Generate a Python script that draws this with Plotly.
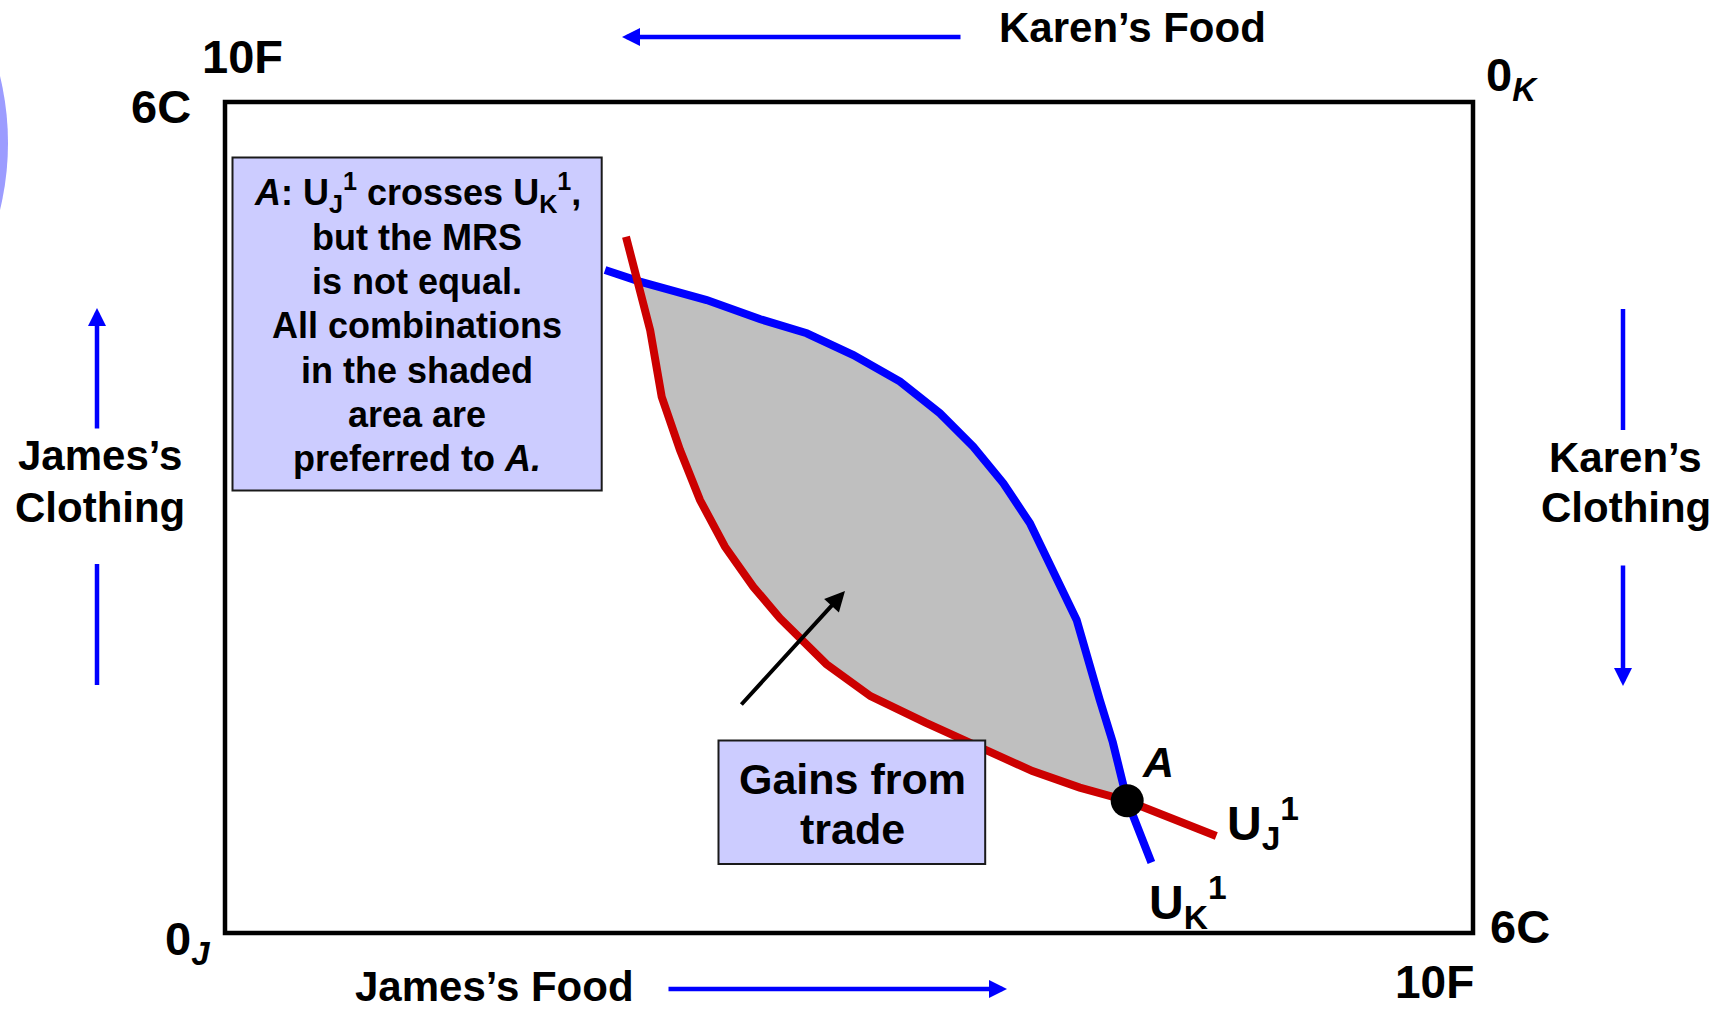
import plotly.graph_objects as go
import numpy as np

# ---------------- data ----------------
# James's indifference curve U_J^1 (red)  -- x: food, y: clothing (James's origin)
uj_x = [3.213, 3.325, 3.407, 3.499, 3.646, 3.806, 4.006, 4.233, 4.447, 4.819, 5.172, 5.613, 5.967, 6.470, 6.849, 7.229, 7.943]
uj_y = [5.027, 4.667, 4.352, 3.872, 3.487, 3.126, 2.789, 2.500, 2.272, 1.941, 1.710, 1.519, 1.368, 1.169, 1.050, 0.955, 0.700]

# Karen's indifference curve U_K^1 (blue)
uk_x = [3.045, 3.325, 3.860, 4.290, 4.661, 5.035, 5.409, 5.729, 5.996, 6.237, 6.450, 6.637, 6.824, 7.008, 7.114, 7.229, 7.423]
uk_y = [4.787, 4.703, 4.570, 4.431, 4.330, 4.173, 3.981, 3.752, 3.511, 3.247, 2.958, 2.621, 2.260, 1.687, 1.376, 0.955, 0.509]

# allocation A
point_a = (7.229, 0.955)

# edgeworth box dimensions
food_total = 10
clothing_total = 6
corner_labels = {"food": "10F", "clothing": "6C"}

box_lines = [
    "<b><i>A</i>: U<sub>J</sub><sup>1</sup> crosses U<sub>K</sub><sup>1</sup>,</b>",
    "<b>but the MRS</b>",
    "<b>is not equal.</b>",
    "<b>All combinations</b>",
    "<b>in the shaded</b>",
    "<b>area are</b>",
    "<b>preferred to <i>A.</i></b>",
]
gains_lines = ["<b>Gains from</b>", "<b>trade</b>"]

# ---------------- layout geometry ----------------
W, H = 1728, 1010
L, R, T, B = 225, 1473, 102, 933


def px(x):
    return (x - L) / (R - L)


def py(y):
    return (B - y) / (B - T)


def seg_intersect(p1, p2, p3, p4):
    x1, y1 = p1; x2, y2 = p2; x3, y3 = p3; x4, y4 = p4
    d = (x1 - x2) * (y3 - y4) - (y1 - y2) * (x3 - x4)
    t = ((x1 - x3) * (y3 - y4) - (y1 - y3) * (x3 - x4)) / d
    return x1 + t * (x2 - x1), y1 + t * (y2 - y1)


# shaded lens between the curves (from upper crossing to A)
ia = uj_x.index(point_a[0])
ib = uk_x.index(point_a[0])
top = seg_intersect((uj_x[0], uj_y[0]), (uj_x[1], uj_y[1]), (uk_x[0], uk_y[0]), (uk_x[1], uk_y[1]))
shade_x = [top[0]] + uk_x[1:ib + 1] + uj_x[1:ia][::-1] + [top[0]]
shade_y = [top[1]] + uk_y[1:ib + 1] + uj_y[1:ia][::-1] + [top[1]]

RED = "#CC0000"
BLUE = "#0000FF"
FONT = "Liberation Sans, Arial, sans-serif"

fig = go.Figure()
fig.add_trace(go.Scatter(x=shade_x, y=shade_y, mode="lines", fill="toself",
                         fillcolor="#BFBFBF", line=dict(width=0), hoverinfo="skip"))
fig.add_trace(go.Scatter(x=uk_x, y=uk_y, mode="lines", line=dict(color=BLUE, width=8)))
fig.add_trace(go.Scatter(x=uj_x, y=uj_y, mode="lines", line=dict(color=RED, width=8)))
fig.add_trace(go.Scatter(x=[point_a[0]], y=[point_a[1]], mode="markers",
                         marker=dict(color="black", size=33, line=dict(width=0))))

shapes = []
# frame of the Edgeworth box
shapes.append(dict(type="rect", xref="paper", yref="paper", x0=0, x1=1, y0=0, y1=1,
                   line=dict(color="black", width=4.5), layer="above"))
# text boxes
shapes.append(dict(type="rect", xref="paper", yref="paper", x0=px(232.5), x1=px(601.7),
                   y0=py(157.6), y1=py(490.4), fillcolor="#CCCCFF",
                   line=dict(color="#1a1a1a", width=2), layer="above"))
shapes.append(dict(type="rect", xref="paper", yref="paper", x0=px(718.5), x1=px(985.2),
                   y0=py(740.5), y1=py(864), fillcolor="#CCCCFF",
                   line=dict(color="#1a1a1a", width=2), layer="above"))
# plain blue segments (tails of the side arrows)
shapes.append(dict(type="line", xref="paper", yref="paper", x0=px(97), x1=px(97),
                   y0=py(564), y1=py(685), line=dict(color=BLUE, width=4.5)))
shapes.append(dict(type="line", xref="paper", yref="paper", x0=px(1623), x1=px(1623),
                   y0=py(309), y1=py(430), line=dict(color=BLUE, width=4.5)))
# decorative lavender disc at left edge
shapes.append(dict(type="circle", xref="paper", yref="paper", x0=px(-277 - 285), x1=px(8),
                   y0=py(143 + 285), y1=py(143 - 285), fillcolor="#9C9CFF",
                   line=dict(width=0), layer="above"))

ann = []


def text(x, y, s, size, family=FONT, xanchor="center", yanchor="middle"):
    ann.append(dict(x=px(x), y=py(y), xref="paper", yref="paper", text=s, showarrow=False,
                    font=dict(family=family, size=size, color="black"),
                    xanchor=xanchor, yanchor=yanchor, align="center"))


def arrow(x0, y0, x1, y1, color, width, size=0.8):
    ann.append(dict(x=px(x1), y=py(y1), xref="paper", yref="paper",
                    ax=x0 - x1, ay=y0 - y1, axref="pixel", ayref="pixel",
                    text="", showarrow=True, arrowhead=2, arrowsize=size,
                    arrowwidth=width, arrowcolor=color))


for i, s in enumerate(box_lines):
    text(417, 193 + 44.25 * i, s, 36)
for i, s in enumerate(gains_lines):
    text(852, 779 + 50 * i, s, 43)

# corner labels
text(161, 106, "<b>" + corner_labels["clothing"] + "</b>", 47)
text(242, 57, "<b>" + corner_labels["food"] + "</b>", 47)
text(1520, 926, "<b>" + corner_labels["clothing"] + "</b>", 47)
text(1434, 982, "<b>" + corner_labels["food"] + "</b>", 46)
text(1484, 78, "<b>0<sub><i>K</i></sub></b>", 47, xanchor="left")
text(163, 942, "<b>0<sub><i>J</i></sub></b>", 47, xanchor="left")

# curve labels
text(1158, 762, "<b><i>A</i></b>", 43)
text(1225, 823, "<b>U<sub>J</sub><sup>1</sup></b>", 48, xanchor="left")
text(1147, 902, "<b>U<sub>K</sub><sup>1</sup></b>", 48, xanchor="left")

# axis titles
text(100, 455, "<b>James’s</b>", 42)
text(100, 507, "<b>Clothing</b>", 42)
text(1626, 457, "<b>Karen’s</b>", 42)
text(1626, 507, "<b>Clothing</b>", 42)
text(1132, 28, "<b>Karen’s Food</b>", 42)
text(494, 986, "<b>James’s Food</b>", 42)

# direction arrows
arrow(962, 37, 622, 37, BLUE, 4.5)
arrow(667, 989, 1007, 989, BLUE, 4.5)
arrow(97, 430, 97, 308, BLUE, 4.5)
arrow(1623, 564, 1623, 686, BLUE, 4.5)
# pointer to shaded area
arrow(740, 706, 845, 591, "black", 4, 1.0)

fig.update_layout(
    width=W, height=H, autosize=False,
    margin=dict(l=L, r=W - R, t=T, b=H - B, pad=0),
    paper_bgcolor="white", plot_bgcolor="white",
    showlegend=False,
    xaxis=dict(range=[0, food_total], visible=False, fixedrange=True),
    yaxis=dict(range=[0, clothing_total], visible=False, fixedrange=True),
    shapes=shapes, annotations=ann,
)

fig.write_html("out.html", config={"displayModeBar": False},
               post_script="document.body.style.margin='0px';")
